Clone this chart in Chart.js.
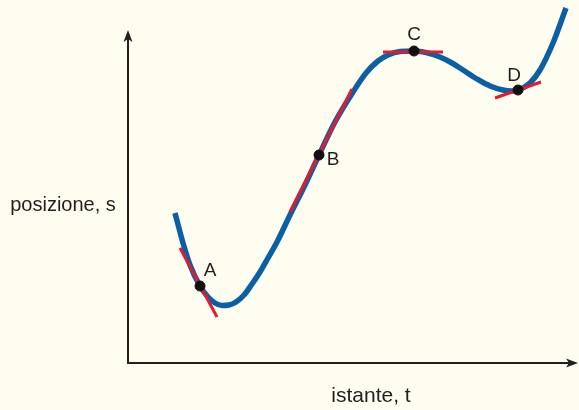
<!DOCTYPE html>
<html>
<head>
<meta charset="utf-8">
<script src="https://cdn.jsdelivr.net/npm/chart.js@4"></script>
<style>
  html, body { margin: 0; padding: 0; background: #fffdef; }
  #wrap { width: 579px; height: 410px; }
</style>
</head>
<body>
<div id="wrap"><canvas id="motionChart"></canvas></div>
<script>
// curve (t, s)
const curveT = [47, 55, 62, 72, 80, 87, 94, 101, 108, 116, 124, 132, 140, 149, 162, 177, 191, 207, 225, 238, 250, 260, 272, 286, 300, 312, 324, 335, 349, 362, 375, 383, 390, 402, 412, 425, 438];
const curveS = [150, 120, 98, 77, 66, 60, 57.5, 58, 61, 68, 79, 91, 105, 121, 148, 178, 208, 241, 271, 290, 302, 308, 311.5, 312, 310, 306, 300, 293, 284, 277, 273, 272, 273, 280, 293, 320, 355];

// points and their tangent segments
const pointLabels = ["A", "B", "C", "D"];
const pointT = [72, 191, 286, 390];
const pointS = [77, 208, 312, 273];
const tangentT = [[52, 89], [162, 224], [255, 315], [367, 413]];
const tangentS = [[115, 46], [151, 274], [311, 311], [265, 281]];

const axisTitleX = "istante, t";
const axisTitleY = "posizione, s";

const curveData = curveT.map((t, i) => ({ x: t, y: curveS[i] }));
const pointData = pointT.map((t, i) => ({ x: t, y: pointS[i] }));

const tangentSets = tangentT.map((ts, i) => ({
    type: "line",
    data: ts.map((t, j) => ({ x: t, y: tangentS[i][j] })),
    borderColor: "#e31b2f",
    borderWidth: 3,
    pointRadius: 0,
    order: 1
}));

// axes with arrow heads, titles and point letters
const decor = {
    id: "decor",
    afterDatasetsDraw(chart) {
        const ctx = chart.ctx;
        const x = chart.scales.x, y = chart.scales.y;
        const x0 = x.getPixelForValue(0), y0 = y.getPixelForValue(0);
        const xEnd = x.getPixelForValue(450), yEnd = y.getPixelForValue(333);
        ctx.save();
        ctx.strokeStyle = "#231f20";
        ctx.fillStyle = "#231f20";
        ctx.lineWidth = 2;
        ctx.beginPath();
        ctx.moveTo(x0, yEnd + 8);
        ctx.lineTo(x0, y0);
        ctx.lineTo(xEnd - 8, y0);
        ctx.stroke();
        ctx.beginPath();
        ctx.moveTo(x0, yEnd);
        ctx.lineTo(x0 - 4.5, yEnd + 12);
        ctx.lineTo(x0, yEnd + 9);
        ctx.lineTo(x0 + 4.5, yEnd + 12);
        ctx.closePath();
        ctx.fill();
        ctx.beginPath();
        ctx.moveTo(xEnd, y0);
        ctx.lineTo(xEnd - 12, y0 - 4.5);
        ctx.lineTo(xEnd - 9, y0);
        ctx.lineTo(xEnd - 12, y0 + 4.5);
        ctx.closePath();
        ctx.fill();

        ctx.textAlign = "center";
        ctx.textBaseline = "middle";
        ctx.font = "20px 'Liberation Sans', Arial, sans-serif";
        ctx.fillText(axisTitleY, 63, 205);
        ctx.font = "21px 'Liberation Sans', Arial, sans-serif";
        ctx.fillText(axisTitleX, 371, 396);

        const offs = [[10, -15], [14, 5], [0, -16], [-4, -14]];
        ctx.font = "19px 'Liberation Sans', Arial, sans-serif";
        pointLabels.forEach((lab, i) => {
            const px = x.getPixelForValue(pointT[i]);
            const py = y.getPixelForValue(pointS[i]);
            ctx.fillText(lab, px + offs[i][0], py + offs[i][1]);
        });
        ctx.restore();
    }
};

new Chart(document.getElementById("motionChart"), {
    type: "line",
    data: {
        datasets: [
            {
                type: "scatter",
                data: pointData,
                backgroundColor: "#111111",
                borderColor: "#111111",
                pointRadius: 5,
                order: 0
            },
            ...tangentSets,
            {
                type: "line",
                data: curveData,
                borderColor: "#0b5fa5",
                borderWidth: 5.5,
                pointRadius: 0,
                cubicInterpolationMode: "monotone",
                order: 2
            }
        ]
    },
    options: {
        responsive: true,
        maintainAspectRatio: false,
        animation: false,
        layout: { autoPadding: false, padding: { left: 128, right: 1, top: 0, bottom: 47 } },
        plugins: { legend: { display: false }, tooltip: { enabled: false } },
        scales: {
            x: { type: "linear", min: 0, max: 450, display: false },
            y: { type: "linear", min: 0, max: 363, display: false }
        }
    },
    plugins: [decor]
});
</script>
</body>
</html>
